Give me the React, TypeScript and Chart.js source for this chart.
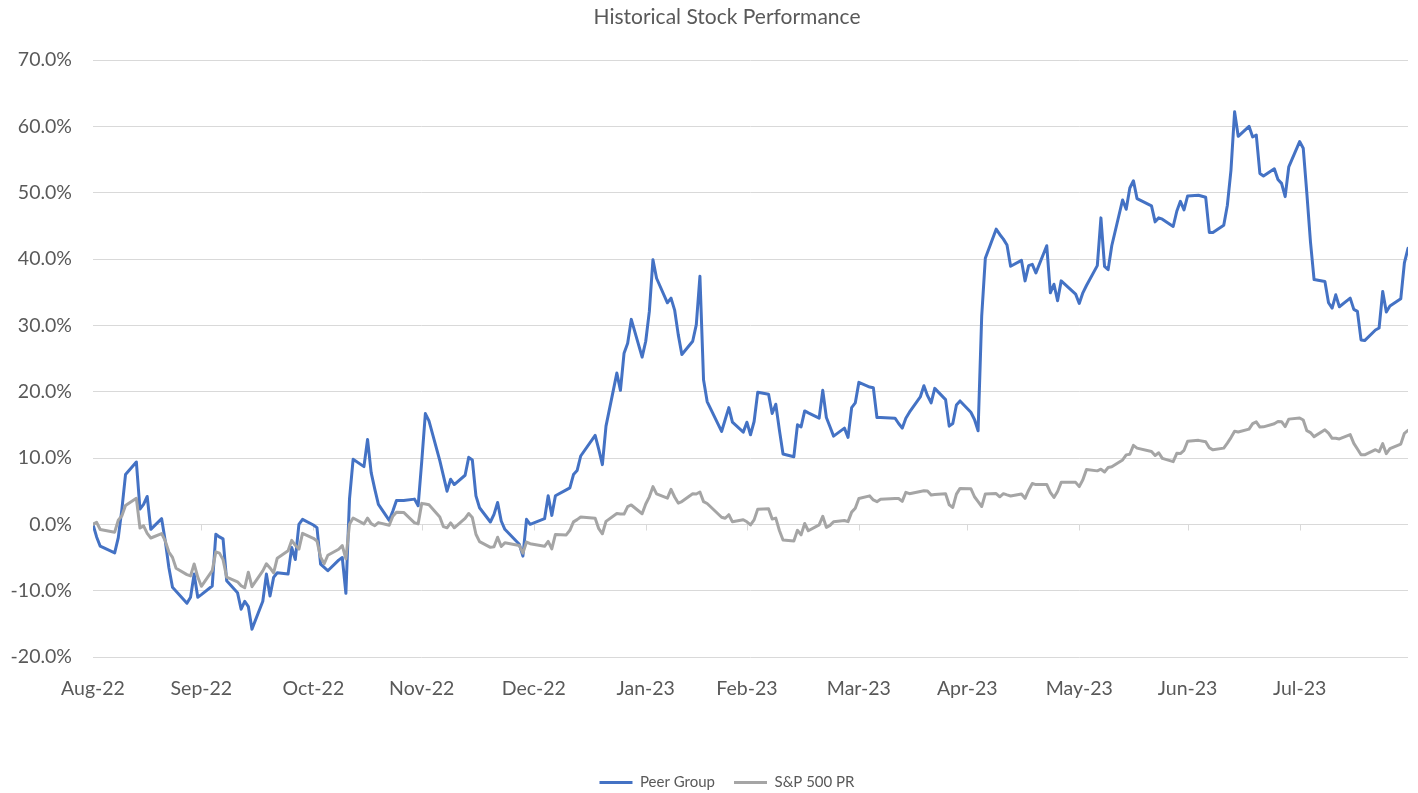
import { useEffect, useRef } from "react";
import { Chart, registerables } from "chart.js";

Chart.register(...registerables);

// Trading days (x positions come from the calendar date through a linear day scale)
const tradingDates = [
  "2022-08-31",
  "2022-09-01", "2022-09-02", "2022-09-06", "2022-09-07", "2022-09-08", "2022-09-09",
  "2022-09-12", "2022-09-13", "2022-09-14", "2022-09-15", "2022-09-16",
  "2022-09-19", "2022-09-20", "2022-09-21", "2022-09-22", "2022-09-23",
  "2022-09-26", "2022-09-27", "2022-09-28", "2022-09-29", "2022-09-30",
  "2022-10-03", "2022-10-04", "2022-10-05", "2022-10-06", "2022-10-07",
  "2022-10-10", "2022-10-11", "2022-10-12", "2022-10-13", "2022-10-14",
  "2022-10-17", "2022-10-18", "2022-10-19", "2022-10-20", "2022-10-21",
  "2022-10-24", "2022-10-25", "2022-10-26", "2022-10-27", "2022-10-28", "2022-10-31",
  "2022-11-01", "2022-11-02", "2022-11-03", "2022-11-04",
  "2022-11-07", "2022-11-08", "2022-11-09", "2022-11-10", "2022-11-11",
  "2022-11-14", "2022-11-15", "2022-11-16", "2022-11-17", "2022-11-18",
  "2022-11-21", "2022-11-22", "2022-11-23", "2022-11-25",
  "2022-11-28", "2022-11-29", "2022-11-30",
  "2022-12-01", "2022-12-02", "2022-12-05", "2022-12-06", "2022-12-07", "2022-12-08", "2022-12-09",
  "2022-12-12", "2022-12-13", "2022-12-14", "2022-12-15", "2022-12-16",
  "2022-12-19", "2022-12-20", "2022-12-21", "2022-12-22", "2022-12-23",
  "2022-12-27", "2022-12-28", "2022-12-29", "2022-12-30",
  "2023-01-03", "2023-01-04", "2023-01-05", "2023-01-06",
  "2023-01-09", "2023-01-10", "2023-01-11", "2023-01-12", "2023-01-13",
  "2023-01-17", "2023-01-18", "2023-01-19", "2023-01-20",
  "2023-01-23", "2023-01-24", "2023-01-25", "2023-01-26", "2023-01-27",
  "2023-01-30", "2023-01-31",
  "2023-02-01", "2023-02-02", "2023-02-03", "2023-02-06", "2023-02-07", "2023-02-08", "2023-02-09", "2023-02-10",
  "2023-02-13", "2023-02-14", "2023-02-15", "2023-02-16", "2023-02-17",
  "2023-02-21", "2023-02-22", "2023-02-23", "2023-02-24", "2023-02-27", "2023-02-28",
  "2023-03-01", "2023-03-02", "2023-03-03", "2023-03-06", "2023-03-07", "2023-03-08", "2023-03-09", "2023-03-10",
  "2023-03-13", "2023-03-14", "2023-03-15", "2023-03-16", "2023-03-17",
  "2023-03-20", "2023-03-21", "2023-03-22", "2023-03-23", "2023-03-24",
  "2023-03-27", "2023-03-28", "2023-03-29", "2023-03-30", "2023-03-31",
  "2023-04-03", "2023-04-04", "2023-04-05", "2023-04-06",
  "2023-04-10", "2023-04-11", "2023-04-12", "2023-04-13", "2023-04-14",
  "2023-04-17", "2023-04-18", "2023-04-19", "2023-04-20", "2023-04-21",
  "2023-04-24", "2023-04-25", "2023-04-26", "2023-04-27", "2023-04-28",
  "2023-05-01", "2023-05-02", "2023-05-03", "2023-05-04", "2023-05-05",
  "2023-05-08", "2023-05-09", "2023-05-10", "2023-05-11", "2023-05-12",
  "2023-05-15", "2023-05-16", "2023-05-17", "2023-05-18", "2023-05-19",
  "2023-05-22", "2023-05-23", "2023-05-24", "2023-05-25", "2023-05-26",
  "2023-05-30", "2023-05-31",
  "2023-06-01", "2023-06-02", "2023-06-05", "2023-06-06", "2023-06-07", "2023-06-08", "2023-06-09",
  "2023-06-12", "2023-06-13", "2023-06-14", "2023-06-15", "2023-06-16",
  "2023-06-20", "2023-06-21", "2023-06-22", "2023-06-23",
  "2023-06-26", "2023-06-27", "2023-06-28", "2023-06-29", "2023-06-30",
  "2023-07-03", "2023-07-05", "2023-07-06", "2023-07-07",
  "2023-07-10", "2023-07-11", "2023-07-12", "2023-07-13", "2023-07-14",
  "2023-07-17", "2023-07-18", "2023-07-19", "2023-07-20", "2023-07-21",
  "2023-07-24", "2023-07-25", "2023-07-26", "2023-07-27", "2023-07-28", "2023-07-31",
  "2023-08-01", "2023-08-02", "2023-08-03", "2023-08-04",
  "2023-08-07", "2023-08-08", "2023-08-09", "2023-08-10", "2023-08-11",
  "2023-08-14", "2023-08-15", "2023-08-16", "2023-08-17", "2023-08-18",
  "2023-08-21", "2023-08-22", "2023-08-23", "2023-08-24", "2023-08-25",
  "2023-08-28", "2023-08-29", "2023-08-30",
];

// Peer Group cumulative return, %
const peerGroup = [
  0,
  -1.9, -3.3, -4.3, -2.0, 2.3, 7.5,
  9.4, 2.3, 3.0, 4.2, -0.75,
  0.85, -2.5, -6.5, -9.5, -10.1,
  -11.9, -11.0, -7.5, -11.0, -10.6,
  -9.3, -1.5, -1.9, -2.2, -8.5,
  -10.3, -12.8, -11.6, -12.4, -15.8,
  -11.6, -7.5, -10.8, -8.0, -7.3,
  -7.5, -3.5, -5.3, 0.0, 0.75, -0.1,
  -0.5, -6.0, -6.5, -7.0,
  -5.4, -5.0, -10.4, 3.8, 9.8,
  8.7, 12.8, 7.8, 5.3, 3.0,
  0.6, 2.0, 3.6, 3.6,
  3.8, 2.8, 9.5,
  16.7, 15.6, 9.6, 7.3, 5.0, 6.8, 6.0,
  7.4, 10.1, 9.7, 4.3, 2.5,
  0.35, 1.5, 3.3, 0.5, -0.75,
  -3.0, -4.8, 0.75, 0.0,
  0.85, 4.3, 1.35, 4.3,
  5.2, 5.5, 7.5, 8.1, 10.3,
  13.4, 11.3, 9.0, 14.8,
  22.8, 20.2, 25.8, 27.3, 30.9,
  25.2, 27.6,
  32.1, 39.9, 37.1, 33.4, 34.1, 32.3, 28.6, 25.6,
  27.6, 30.1, 37.4, 21.8, 18.5,
  14.0, 15.8, 17.6, 15.4, 13.9, 15.4,
  13.5, 15.5, 19.9, 19.6, 16.7, 18.1, 14.2, 10.6,
  10.2, 15.0, 14.7, 17.1, 16.8,
  16.0, 20.2, 16.1, 14.7, 13.3,
  14.5, 13.1, 17.6, 18.3, 21.4,
  20.7, 20.6, 16.1, 16.1,
  16.0, 15.2, 14.5, 16.0, 16.9,
  19.2, 20.9, 19.4, 18.3, 20.5,
  18.8, 14.8, 15.2, 18.0, 18.6,
  16.9, 15.8, 14.1, 31.4, 40.1,
  44.5, 43.7, 43.0, 42.1, 38.9,
  39.8, 36.7, 39.0, 39.2, 37.9,
  42.0, 34.9, 36.2, 33.7, 36.7,
  34.7, 33.3,
  34.9, 36.0, 39.0, 46.2, 38.9, 38.4, 42.0,
  48.9, 47.5, 50.7, 51.8, 49.1,
  48.0, 45.6, 46.2, 46.0,
  44.9, 47.2, 48.7, 47.4, 49.5,
  49.6, 49.3, 44.0, 44.0,
  45.1, 48.1, 53.4, 62.2, 58.5,
  60.0, 58.4, 58.7, 52.9, 52.5,
  53.6, 52.0, 51.4, 49.4, 53.9, 57.7,
  56.7, 49.9, 42.6, 36.9,
  36.6, 33.4, 32.6, 34.6, 32.8,
  34.1, 32.4, 32.1, 27.8, 27.7,
  29.3, 29.6, 35.1, 32.0, 32.9,
  34.0, 39.4, 41.6,
];

// S&P 500 PR cumulative return, %
const sp500 = [
  0,
  0.30, -0.78, -1.18, 0.63, 1.29, 2.84,
  3.93, -0.56, -0.23, -1.36, -2.06,
  -1.39, -2.50, -4.17, -4.98, -6.62,
  -7.58, -7.78, -5.97, -7.95, -9.34,
  -6.99, -4.15, -4.34, -5.32, -7.97,
  -8.66, -9.26, -9.56, -7.21, -9.40,
  -7.01, -5.94, -6.57, -7.31, -5.11,
  -3.99, -2.42, -3.15, -3.73, -1.36, -2.10,
  -2.50, -4.94, -5.94, -4.66,
  -3.75, -3.21, -5.22, 0.03, 0.96,
  0.06, 0.93, 0.10, -0.21, 0.26,
  -0.13, 1.23, 1.83, 1.80,
  0.23, 0.07, 3.16,
  3.07, 2.95, 1.11, -0.35, -0.53, 0.22, -0.52,
  0.90, 1.63, 1.02, -1.50, -2.60,
  -3.47, -3.37, -1.94, -3.35, -2.79,
  -3.18, -4.34, -2.67, -2.92,
  -3.31, -2.58, -3.71, -1.52,
  -1.59, -0.90, 0.37, 0.71, 1.11,
  0.91, -0.66, -1.42, 0.45,
  1.64, 1.57, 1.55, 2.67, 2.92,
  1.59, 3.07,
  4.15, 5.68, 4.59, 3.95, 5.28, 4.12, 3.20, 3.43,
  4.61, 4.58, 4.87, 3.42, 3.14,
  1.07, 0.91, 1.45, 0.38, 0.69, 0.38,
  -0.09, 0.67, 2.29, 2.36, 0.79, 0.94, -0.93, -2.36,
  -2.51, -0.90, -1.59, 0.13, -0.97,
  -0.09, 1.21, -0.46, -0.16, 0.40,
  0.57, 0.41, 1.84, 2.42, 3.90,
  4.29, 3.68, 3.42, 3.79,
  3.90, 3.89, 3.46, 4.83, 4.62,
  4.96, 5.05, 5.04, 4.42, 4.51,
  4.60, 2.95, 2.55, 4.56, 5.42,
  5.38, 4.16, 3.43, 2.69, 4.58,
  4.63, 4.15, 4.62, 4.44, 4.28,
  4.58, 3.92, 5.15, 6.15, 5.99,
  6.01, 4.82, 4.05, 4.96, 6.33,
  6.33, 5.68,
  6.73, 8.28, 8.06, 8.31, 7.90, 8.57, 8.69,
  9.71, 10.47, 10.56, 11.90, 11.49,
  10.97, 10.38, 10.79, 9.95,
  9.45, 10.71, 10.67, 11.16, 12.53,
  12.66, 12.44, 11.54, 11.23,
  11.49, 12.24, 13.08, 14.03, 13.92,
  14.36, 15.17, 15.44, 14.66, 14.70,
  15.16, 15.49, 15.47, 14.73, 15.86, 16.03,
  15.72, 14.12, 13.83, 13.22,
  14.25, 13.76, 12.96, 12.99, 12.87,
  13.52, 12.21, 11.36, 10.50, 10.48,
  11.25, 10.94, 12.16, 10.65, 11.40,
  12.09, 13.72, 14.16,
];

// Axis tick dates (month-end) and their labels
const tickDates = [
  "2022-08-31", "2022-09-30", "2022-10-31", "2022-11-30", "2022-12-31", "2023-01-31",
  "2023-02-28", "2023-03-31", "2023-04-30", "2023-05-31", "2023-06-30", "2023-07-31",
];
const tickLabels = [
  "Aug-22", "Sep-22", "Oct-22", "Nov-22", "Dec-22", "Jan-23",
  "Feb-23", "Mar-23", "Apr-23", "May-23", "Jun-23", "Jul-23",
];

const Y_MIN = -20;
const Y_MAX = 70;
const Y_STEP = 10;

const BASE = Date.UTC(2022, 7, 31);
const dayOf = (s: string) => {
  const [y, m, d] = s.split("-").map(Number);
  return (Date.UTC(y, m - 1, d) - BASE) / 86400000;
};
const fmtPct = (v: number) => v.toFixed(1) + "%";

const FONT = "Lato";
const TEXT = "#595959";
const GRID = "#D9D9D9";
const AXIS_FONT_SIZE = 19.5;

// small tick marks on the 0% axis line
const zeroAxisTicks = {
  id: "zeroAxisTicks",
  beforeDatasetsDraw(chart: any) {
    const { ctx, scales } = chart;
    const x = scales.x;
    const y = scales.y;
    const y0 = Math.round(y.getPixelForValue(0)) + 0.5;
    ctx.save();
    ctx.strokeStyle = GRID;
    ctx.lineWidth = 1;
    ctx.beginPath();
    for (const t of x.ticks) {
      const px = Math.round(x.getPixelForValue(t.value)) + 0.5;
      ctx.moveTo(px, y0);
      ctx.lineTo(px, y0 + 6);
    }
    ctx.stroke();
    ctx.restore();
  },
};

// y tick labels, right-aligned left of the plot (drawn unclipped)
const yTickLabels = {
  id: "yTickLabels",
  afterDraw(chart: any) {
    const { ctx, scales, chartArea } = chart;
    const y = scales.y;
    ctx.save();
    ctx.font = `${AXIS_FONT_SIZE}px ${FONT}`;
    ctx.fillStyle = TEXT;
    ctx.textAlign = "right";
    ctx.textBaseline = "middle";
    for (const t of y.ticks) {
      ctx.fillText(fmtPct(t.value), chartArea.left - 21, y.getPixelForValue(t.value));
    }
    ctx.restore();
  },
};

export default function App() {
  const ref = useRef<HTMLCanvasElement | null>(null);

  useEffect(() => {
    if (!ref.current) return;
    const pts = (vals: number[]) => tradingDates.map((d, i) => ({ x: dayOf(d), y: vals[i] }));
    const chart = new Chart(ref.current, {
      type: "line",
      data: {
        datasets: [
          {
            label: "Peer Group",
            data: pts(peerGroup),
            borderColor: "#4472C4",
            backgroundColor: "#4472C4",
            borderWidth: 3,
            pointRadius: 0,
            tension: 0,
            borderJoinStyle: "round",
            borderCapStyle: "round",
            order: 1,
          },
          {
            label: "S&P 500 PR",
            data: pts(sp500),
            borderColor: "#A5A5A5",
            backgroundColor: "#A5A5A5",
            borderWidth: 3,
            pointRadius: 0,
            tension: 0,
            borderJoinStyle: "round",
            borderCapStyle: "round",
            order: 0,
          },
        ],
      },
      options: {
        responsive: false,
        animation: false,
        events: [],
        layout: { padding: { left: 46, right: 10, top: 0, bottom: 0 } },
        scales: {
          x: {
            type: "linear",
            min: 0,
            max: dayOf(tradingDates[tradingDates.length - 1]),
            grid: { display: false, drawTicks: false },
            border: { display: false },
            afterBuildTicks: (s: any) => {
              s.ticks = tickDates.map((d) => ({ value: dayOf(d) }));
            },
            afterFit: (s: any) => {
              s.height = 99;
            },
            ticks: {
              autoSkip: false,
              maxRotation: 0,
              padding: 20,
              color: TEXT,
              font: { family: FONT, size: AXIS_FONT_SIZE },
              callback: (_v: any, i: number) => tickLabels[i],
            },
          },
          y: {
            min: Y_MIN,
            max: Y_MAX,
            grid: { color: GRID, lineWidth: 1, drawTicks: false },
            border: { display: false },
            afterFit: (s: any) => {
              s.width = 47;
            },
            ticks: {
              stepSize: Y_STEP,
              display: false,
            },
          },
        },
        plugins: {
          title: {
            display: true,
            text: "Historical Stock Performance",
            color: TEXT,
            font: { family: FONT, size: 21, weight: "normal" },
            padding: { top: 4.4, bottom: 30.4 },
          },
          legend: {
            position: "bottom",
            labels: {
              usePointStyle: true,
              pointStyle: "line",
              pointStyleWidth: 33,
              padding: 19,
              color: TEXT,
              font: { family: FONT, size: 15 },
              sort: (a: any, b: any) => a.datasetIndex - b.datasetIndex,
            },
          },
          tooltip: { enabled: false },
        },
      },
      plugins: [zeroAxisTicks, yTickLabels],
    } as any);
    return () => chart.destroy();
  }, []);

  return (
    <div style={{ position: "fixed", left: 0, top: 0, width: 1418, height: 793, background: "#fff", overflow: "hidden" }}>
      <canvas ref={ref} width={1418} height={800} style={{ display: "block" }} />
    </div>
  );
}
